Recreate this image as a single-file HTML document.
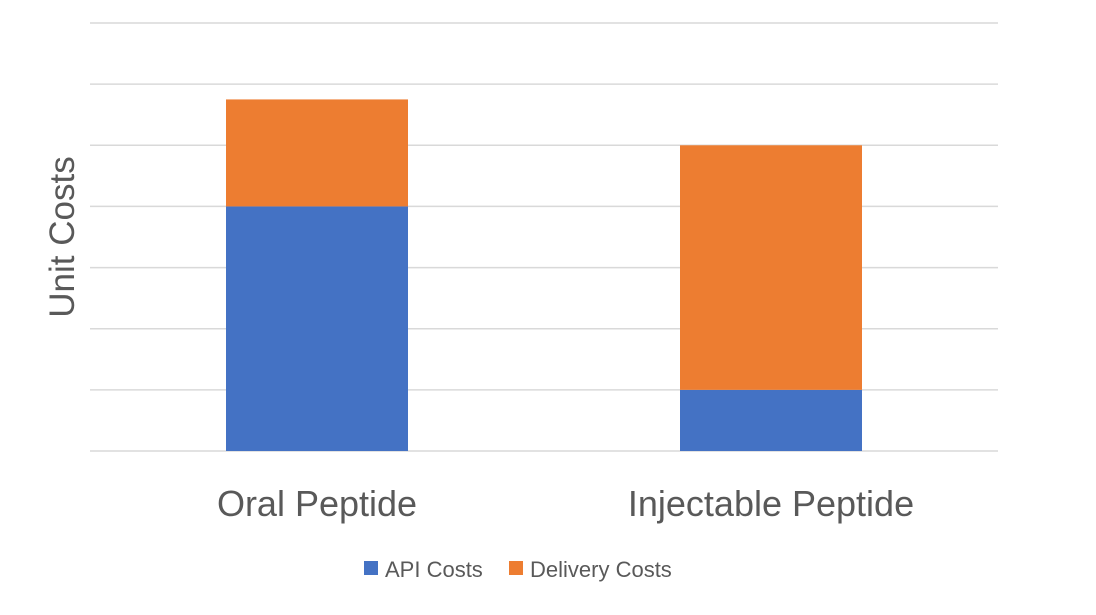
<!DOCTYPE html>
<html><head><meta charset="utf-8"><style>
body{margin:0;background:#fff;width:1096px;height:610px;overflow:hidden;font-family:"Liberation Sans",sans-serif}
</style></head><body>
<svg width="1096" height="610" font-family="Liberation Sans, sans-serif">
<g id="grid"></g>
<g id="bars"></g>
<g id="labels"></g>
<text transform="translate(74,237) rotate(-90)" text-anchor="middle" font-size="35" fill="#595959">Unit Costs</text>
<g>
<g><rect x="364" y="561" width="14" height="14" fill="#4472c4"/><text x="385" y="577" font-size="22" fill="#595959">API Costs</text></g>
<g><rect x="509" y="561" width="14" height="14" fill="#ed7d31"/><text x="530" y="577" font-size="22" fill="#595959">Delivery Costs</text></g>
</g>
</svg>
<script>
const categories=["Oral Peptide","Injectable Peptide"];
const apiCosts=[4,1];
const deliveryCosts=[1.75,4];
const yTicks=[0,1,2,3,4,5,6,7];
const NS="http://www.w3.org/2000/svg";
const x0=90,x1=998,yBase=451,yTop=23,yMax=7;
const y=v=>yBase-(yBase-yTop)*v/yMax;
const band=(x1-x0)/categories.length, bw=182;
const cx=i=>x0+band*(i+0.5);
function mk(t,a,p){const e=document.createElementNS(NS,t);for(const k in a)e.setAttribute(k,a[k]);p.appendChild(e);return e;}
const g=document.getElementById('grid');
yTicks.forEach(v=>{const l=mk('line',{x1:x0,x2:x1,y1:y(v),y2:y(v),stroke:'#d9d9d9','stroke-width':1.5},g);

});
const b=document.getElementById('bars'),lb=document.getElementById('labels');
categories.forEach((c,i)=>{
 const r1=mk('rect',{x:cx(i)-bw/2,y:y(apiCosts[i]),width:bw,height:y(0)-y(apiCosts[i]),fill:'#4472c4'},b);
 
 
 const t=apiCosts[i]+deliveryCosts[i];
 const r2=mk('rect',{x:cx(i)-bw/2,y:y(t),width:bw,height:y(apiCosts[i])-y(t),fill:'#ed7d31'},b);
 
 
 const tx=mk('text',{x:cx(i),y:516,'text-anchor':'middle','font-size':36,fill:'#595959'},lb);
 tx.textContent=c;
 
 
});
</script>
</body></html>
